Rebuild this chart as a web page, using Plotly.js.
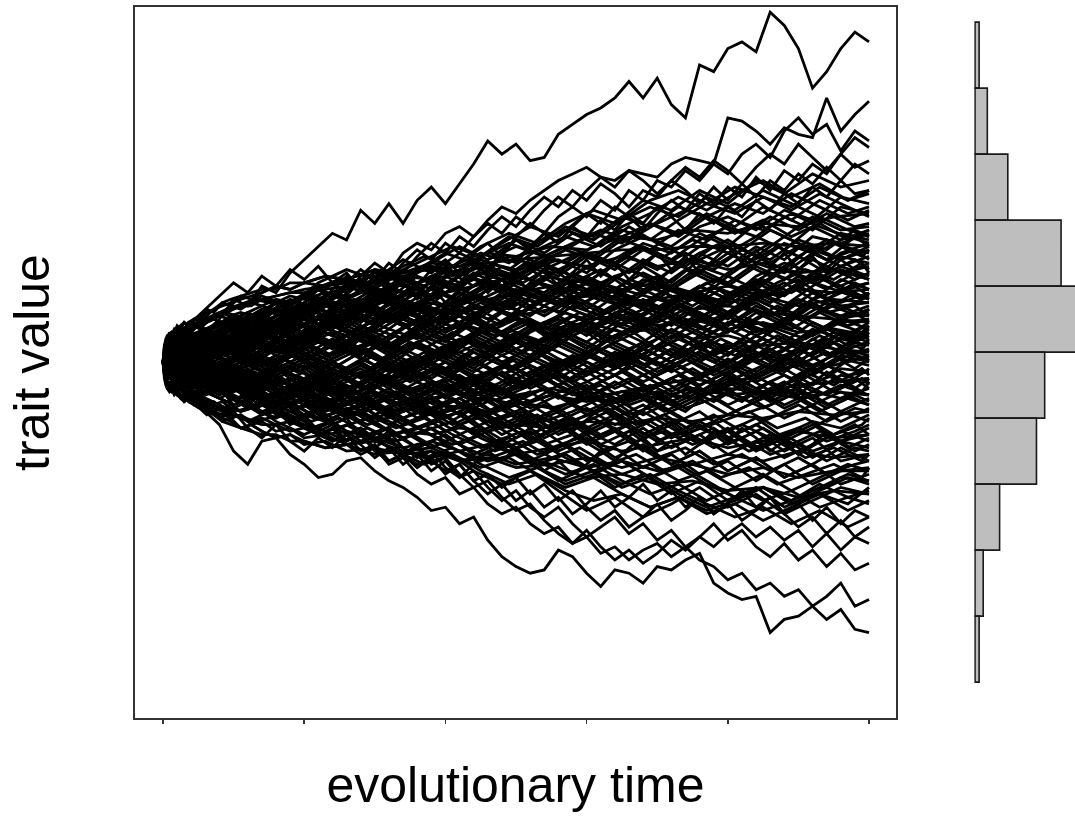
<!DOCTYPE html>
<html>
<head>
<meta charset="utf-8">
<script src="https://cdn.plot.ly/plotly-3.0.1.min.js"></script>
<style>html,body{margin:0;padding:0;background:#fff;}#chart{width:1075px;height:836px;}</style>
</head>
<body>
<div id="chart"></div>
<script>
// ---------- data ----------
const tickTimes = [0, 200, 400, 600, 800, 1000];

const timeCoarse = [0,5,12,24,40,80,120,160,200,240,280,320,360,400,440,480,520,560,600,640,680,720,760,800,840,880,920,960,1000];
const timeShifted = [0,4,10,24,60,100,140,180,220,260,300,340,380,420,460,500,540,580,620,660,700,740,780,820,860,900,940,980,1000];
const timeShiftedB = [0,3,8,18,50,90,130,170,210,250,290,330,370,410,450,490,530,570,610,650,690,730,770,810,850,890,930,970,1000];
const timeShiftedC = [0,2,7,15,70,110,150,190,230,270,310,350,390,430,470,510,550,590,630,670,710,750,790,830,870,910,950,990,1000];
const timeBlob = [0,1,2,4,6,9,12,16,20,25,30,36,44,52,62,72,84,96,110,125,140,160,180,200,230,260,300,340,380,420,460,500,550,600,650,700,750,800,850,900,950,1000];
const timeFine = [0,5,12,24,40,60,80,100,120,140,160,180,200,220,240,260,280,300,320,340,360,380,400,420,440,460,480,500,520,540,560,580,600,620,640,660,680,700,720,740,760,780,800,820,840,860,880,900,920,940,960,980,1000];

// paths that stand out at the upper edge of the fan (on timeFine)
const upperEdgePaths = [
  [0,2,4,2,5,9,13,19,17,23,21,27,31,35,39,37,46,42,48,42,49,53,48,54,60,67,63,66,61,62,69,72,75,77,80,85,80,86,78,74,90,88,95,97,94,106,102,95,83,88,95,100,97],
  [0,-2,-1,2,5,3,8,6,11,14,12,17,15,20,24,21,26,30,27,33,36,34,39,41,38,43,47,45,49,52,55,57,59,56,55,58,57,56,60,62,61,60,74,73,70,66,71,69,68,80,70,75,79],
  [0,1,3,0,-2,2,5,3,7,10,8,13,11,16,14,19,17,22,20,25,23,28,31,27,33,36,32,38,42,39,44,47,44,49,46,52,49,55,53,58,55,60,57,63,66,62,70,74,69,72,64,70,67],
  [0,-1,-3,-1,2,6,4,9,7,12,16,13,18,22,19,24,28,25,30,27,32,36,33,38,35,40,44,41,46,50,47,52,49,54,51,47,52,50,55,59,56,61,58,54,59,63,60,66,62,58,63,68,65],
  [0,2,1,4,2,-1,3,7,5,10,8,4,9,13,10,15,12,17,21,18,23,20,26,24,29,27,32,30,35,39,36,41,45,42,47,44,40,45,49,46,51,48,53,50,56,52,58,55,60,57,63,59,61],
  [0,-1,1,3,6,3,8,12,9,14,18,15,20,17,22,26,23,28,25,30,34,31,36,33,38,42,39,44,41,46,50,47,52,56,53,58,55,51,55,52,48,53,49,54,50,55,52,57,54,59,55,60,57],
  [0,1,-1,-3,0,4,1,6,10,7,12,9,14,19,16,21,25,22,27,24,20,25,29,26,31,28,33,37,34,39,36,41,38,43,40,45,42,47,44,40,45,42,47,44,49,46,51,48,53,50,55,51,52],
  [0,3,6,9,12,16,20,24,21,26,23,28,25,29,24,27,22,26,21,24,19,23,18,22,26,21,25,20,24,28,23,27,31,26,30,25,29,33,28,32,27,31,35,30,34,29,33,28,32,27,31,28,30]
];

// paths that stand out at the lower edge of the fan (on timeFine)
const lowerEdgePaths = [
  [0,-2,-5,-8,-11,-14,-17,-15,-20,-23,-19,-24,-27,-23,-26,-22,-25,-29,-26,-31,-28,-33,-30,-35,-31,-27,-30,-26,-29,-33,-30,-34,-31,-27,-30,-26,-23,-27,-24,-28,-25,-21,-24,-20,-23,-27,-24,-28,-25,-21,-24,-27,-25],
  [0,-2,-5,-8,-12,-15,-19,-27,-31,-24,-23,-28,-31,-35,-34,-30,-29,-33,-36,-38,-41,-45,-44,-49,-47,-54,-59,-62,-64,-63,-57,-59,-64,-68,-63,-64,-67,-62,-63,-60,-58,-67,-70,-72,-71,-82,-78,-77,-74,-78,-75,-81,-82],
  [0,1,-1,-4,-7,-10,-8,-13,-11,-16,-14,-19,-17,-22,-20,-25,-28,-26,-31,-29,-34,-37,-35,-40,-38,-43,-46,-44,-49,-52,-50,-55,-53,-58,-56,-60,-57,-55,-59,-56,-60,-62,-66,-64,-69,-67,-71,-69,-74,-71,-67,-74,-72],
  [0,-1,1,-2,-5,-3,-7,-5,-9,-12,-10,-14,-17,-15,-19,-22,-20,-24,-21,-26,-29,-27,-32,-35,-33,-38,-42,-39,-44,-47,-44,-49,-53,-50,-47,-52,-49,-54,-51,-56,-53,-49,-54,-51,-56,-59,-55,-60,-57,-62,-58,-63,-61],
  [0,2,0,-3,-1,-5,-9,-7,-12,-10,-15,-18,-16,-21,-24,-22,-27,-25,-30,-28,-26,-31,-29,-34,-38,-36,-41,-45,-43,-48,-52,-55,-51,-56,-60,-57,-61,-58,-54,-57,-53,-56,-52,-49,-53,-50,-54,-51,-56,-52,-57,-53,-55],
  [0,-2,-4,-2,-6,-9,-7,-11,-14,-12,-16,-13,-18,-21,-19,-24,-22,-27,-30,-28,-32,-29,-34,-31,-36,-40,-37,-42,-39,-44,-41,-46,-43,-39,-44,-41,-37,-42,-39,-44,-41,-46,-43,-48,-45,-41,-46,-43,-48,-44,-49,-45,-47],
  [0,1,3,1,-2,-5,-3,-8,-6,-11,-9,-13,-17,-14,-19,-17,-22,-26,-23,-28,-25,-30,-33,-31,-36,-34,-38,-35,-40,-37,-42,-39,-44,-48,-45,-50,-47,-43,-48,-45,-41,-46,-43,-39,-44,-41,-46,-50,-47,-52,-48,-53,-50]
];

// paths inside the dense part of the fan (on timeCoarse)
const interiorPaths = [
  [0,2,5,3,8,12,9,16,20,17,24,21,28,33,30,36,41,38,45,42,49,46,52,48,55,51,57,53,55],
  [0,-1,1,5,2,6,11,7,13,10,15,19,14,21,25,22,28,31,27,34,38,35,41,44,40,46,43,50,48],
  [0,1,-2,0,4,-1,5,9,6,12,8,14,18,15,21,17,23,28,24,30,35,31,37,41,38,44,40,47,45],
  [0,2,4,8,11,15,12,18,14,20,24,19,26,23,29,25,31,27,33,30,36,33,39,35,42,38,44,40,41],
  [0,-2,-4,-1,-5,-2,3,-1,5,9,4,10,7,13,17,12,19,15,22,26,21,28,33,29,35,31,38,36,39],
  [0,1,3,1,-2,4,1,7,11,8,13,10,16,12,18,22,17,23,20,26,29,24,31,35,30,36,33,39,37],
  [0,-1,2,6,9,6,12,16,13,18,15,21,17,23,19,25,28,23,29,25,31,27,33,37,32,38,34,31,35],
  [0,2,0,-3,1,-4,-1,4,0,6,2,8,13,9,15,11,17,21,16,22,27,23,29,26,32,28,35,31,34],
  [0,1,4,7,5,10,14,11,17,13,19,15,11,16,12,18,14,20,24,19,25,22,28,24,30,27,33,29,32],
  [0,-1,-3,0,3,7,4,9,5,11,8,13,9,15,20,16,22,18,24,21,17,23,19,26,22,28,25,32,30],
  [0,2,1,4,7,3,8,12,9,14,10,16,21,17,23,27,22,28,24,30,26,22,27,23,29,25,31,27,29],
  [0,-2,0,-2,-6,-3,-7,-2,-6,0,-4,2,6,2,8,4,10,14,9,15,11,17,13,19,24,20,26,23,27],
  [0,1,-1,3,6,2,7,3,9,5,11,7,13,18,14,20,16,22,18,14,19,15,21,17,23,28,24,29,26],
  [0,-1,1,-2,1,5,1,6,2,-2,3,-1,5,1,7,3,9,13,8,14,10,16,20,15,21,17,23,28,25],
  [0,2,5,3,7,11,15,11,17,21,16,22,26,21,27,23,29,25,21,26,22,18,23,19,25,21,27,22,24],
  [0,1,3,0,2,6,3,9,13,10,16,12,18,23,19,25,30,26,32,28,34,30,27,33,38,34,41,37,40],
  [0,-1,-3,-6,-3,-8,-4,-9,-5,0,-4,2,-2,4,9,5,11,7,13,17,12,18,23,19,26,30,27,33,36],
  [0,2,4,7,10,14,11,16,20,16,22,18,24,28,23,29,25,21,26,22,18,23,19,15,20,24,19,25,22],
  [0,-2,-1,-4,-1,3,-1,4,0,6,10,5,11,7,13,9,5,10,6,12,16,11,17,13,19,15,21,18,21],
  [0,1,-1,-4,-8,-4,-9,-5,-10,-6,-1,-5,1,-3,3,-1,5,9,4,10,6,12,8,14,18,13,19,16,20],
  [0,1,3,6,3,8,4,10,6,2,7,3,9,5,1,6,2,8,12,7,13,9,15,11,17,13,19,22,19],
  [0,-1,2,0,3,-1,4,9,5,11,7,13,9,15,20,16,22,18,14,20,16,22,18,14,19,15,21,17,18],
  [0,2,0,3,0,-4,0,-5,-1,-6,-2,-7,-3,2,-2,4,0,6,2,8,12,7,13,9,15,11,17,14,17],
  [0,-2,-4,-2,-5,-1,4,0,5,1,7,3,-1,4,0,6,2,-2,3,-1,5,9,4,10,6,12,17,13,16],
  [0,1,3,1,5,9,5,11,15,11,17,21,17,23,19,25,21,17,22,18,14,19,15,11,16,12,18,13,15],
  [0,-1,1,4,1,-3,1,-4,0,-5,-1,-6,-2,3,-1,5,1,7,3,-1,4,0,6,2,8,12,8,14,14],
  [0,2,5,8,12,8,13,18,14,20,17,12,16,10,14,9,13,8,12,7,11,6,10,14,9,13,8,12,13],
  [0,-2,-5,-3,-7,-11,-7,-13,-9,-15,-10,-6,-11,-5,-9,-3,-7,-1,3,-2,4,0,6,2,8,4,10,7,12],
  [0,1,0,2,5,1,-3,2,-2,3,8,4,10,6,12,8,4,9,5,1,6,2,8,4,10,6,12,8,11],
  [0,-1,-2,1,4,8,13,9,15,11,17,13,9,14,10,6,11,7,3,8,4,10,6,12,8,4,9,13,10],
  [0,2,1,-2,-5,-1,-6,-2,-8,-3,-7,-2,2,-3,1,-4,0,5,1,6,2,8,4,0,5,1,7,3,9],
  [0,1,4,2,6,3,8,4,0,5,1,-3,2,-2,4,0,-4,1,-3,2,6,2,8,4,10,6,2,7,8],
  [0,-1,-4,-7,-4,-9,-5,-10,-6,-12,-7,-11,-6,-10,-4,-8,-3,-7,-2,3,-1,4,0,5,1,6,2,9,7],
  [0,2,0,4,8,5,10,6,11,16,12,18,14,9,13,8,12,7,11,6,10,5,1,6,2,8,4,9,6],
  [0,-2,0,-3,1,-2,3,-1,4,0,-4,1,-3,-8,-4,-9,-5,0,-4,2,-2,4,0,-4,1,-3,3,7,5],
  [0,1,-1,1,-2,2,7,3,8,4,9,5,10,14,9,15,11,6,10,5,1,6,2,-2,3,-1,5,1,4],
  [0,-1,1,3,0,-4,-8,-4,-9,-5,-10,-6,-1,-5,0,-4,1,-3,2,-2,4,0,-4,1,-3,2,-2,4,2],
  [0,2,4,1,5,9,5,10,6,11,7,2,6,1,5,0,4,-1,3,-2,2,-3,1,5,0,4,-1,3,1],
  [0,-1,-3,-1,-4,0,-5,-1,-6,-2,3,-1,5,1,-3,2,-2,-7,-3,-8,-4,-9,-5,0,-4,1,-3,2,0],
  [0,1,2,5,2,-2,2,-3,1,-4,0,-5,-9,-5,-10,-6,-1,-5,0,-4,2,-2,3,-1,-5,0,-4,1,-1],
  [0,-2,-1,2,5,2,6,11,7,13,9,4,8,3,7,2,6,1,-3,1,-4,0,-5,-1,-6,-2,-7,-2,-3],
  [0,1,-1,-4,-1,-6,-2,-7,-3,-8,-13,-9,-14,-10,-6,-11,-7,-3,-8,-4,-9,-5,-10,-6,-11,-7,-2,-6,-5],
  [0,-1,1,4,7,3,7,2,6,1,5,0,-4,0,-5,-1,-6,-2,3,-1,-6,-2,-7,-3,-8,-4,-9,-4,-6],
  [0,2,0,-2,-6,-10,-6,-12,-8,-14,-10,-16,-12,-17,-13,-8,-12,-7,-11,-6,-10,-5,-9,-4,-8,-13,-9,-11,-8],
  [0,-1,-3,-6,-3,1,-3,2,-2,-7,-3,-8,-4,-9,-5,-10,-6,-11,-7,-12,-8,-13,-9,-5,-10,-6,-11,-7,-10],
  [0,1,3,0,-3,0,-4,-9,-5,-10,-6,-1,-5,0,-4,-9,-5,-10,-15,-11,-16,-12,-8,-13,-9,-14,-10,-15,-11],
  [0,-2,-4,-2,1,5,1,6,2,7,3,-1,-6,-2,-7,-3,-8,-4,-9,-14,-10,-15,-11,-16,-12,-8,-13,-9,-13],
  [0,1,-1,-3,-7,-4,-9,-13,-9,-15,-11,-17,-13,-19,-14,-20,-16,-22,-18,-14,-19,-15,-20,-16,-12,-17,-13,-18,-14],
  [0,-1,0,3,0,-3,1,-4,0,-5,-10,-6,-11,-7,-12,-17,-13,-18,-14,-19,-15,-20,-25,-21,-26,-22,-18,-20,-16],
  [0,2,1,-2,-5,-9,-14,-10,-16,-12,-18,-14,-20,-16,-22,-18,-24,-19,-25,-21,-27,-22,-18,-23,-19,-24,-20,-15,-18],
  [0,-1,-3,-1,2,-2,3,-1,4,0,-5,-1,-6,-11,-7,-13,-9,-15,-11,-17,-13,-19,-15,-21,-17,-23,-19,-24,-20],
  [0,1,-1,-4,-8,-5,-10,-6,-12,-17,-13,-19,-15,-21,-17,-13,-18,-14,-20,-16,-22,-18,-24,-20,-26,-22,-27,-24,-22],
  [0,-2,-5,-8,-12,-16,-12,-18,-22,-18,-24,-20,-26,-22,-28,-24,-30,-26,-21,-25,-20,-26,-22,-28,-24,-29,-25,-21,-24],
  [0,1,2,-1,-4,-1,-5,-1,-6,-2,-7,-12,-8,-13,-9,-14,-19,-15,-21,-17,-23,-19,-25,-21,-27,-23,-29,-24,-26],
  [0,-1,1,-2,1,4,0,5,1,-4,0,-5,-10,-6,-12,-8,-14,-10,-16,-12,-18,-23,-19,-25,-21,-27,-23,-30,-28],
  [0,2,-1,-5,-2,-7,-3,-8,-13,-9,-15,-11,-17,-13,-19,-25,-21,-27,-23,-29,-25,-31,-27,-33,-29,-35,-31,-26,-30],
  [0,-1,-4,-2,-6,-3,-8,-4,-10,-6,-12,-8,-14,-10,-16,-22,-18,-24,-30,-26,-32,-28,-34,-30,-36,-31,-37,-33,-32],
  [0,1,3,6,3,7,3,-2,2,-3,-8,-4,-10,-15,-11,-17,-22,-18,-24,-20,-26,-31,-27,-33,-29,-35,-31,-37,-34],
  [0,-2,-4,-7,-11,-8,-13,-17,-13,-19,-15,-21,-26,-22,-28,-24,-30,-36,-32,-38,-34,-40,-36,-42,-38,-44,-40,-35,-36],
  [0,-1,-3,-5,-9,-13,-18,-14,-20,-24,-20,-26,-31,-27,-33,-37,-33,-39,-45,-41,-47,-43,-38,-44,-40,-46,-42,-38,-40]
];

// more paths inside the fan (on timeShifted)
const interiorPathsB = [
  [0,2,5,9,12,16,20,17,24,28,25,31,27,33,29,26,30,24,28,22,26,19,23,17,21,25,19,23,20],
  [0,-2,-5,-8,-11,-15,-13,-18,-22,-19,-24,-21,-26,-22,-18,-23,-17,-21,-14,-18,-11,-15,-8,-12,-6,-10,-3,-8,-5],
  [0,1,4,2,6,10,14,19,16,22,27,24,30,35,31,37,33,39,35,41,36,32,38,34,40,36,31,38,35],
  [0,-1,2,5,9,13,10,15,19,23,20,26,22,18,23,19,15,20,16,12,17,13,9,14,10,6,11,7,10],
  [0,2,-1,-4,-7,-11,-15,-12,-17,-14,-19,-23,-20,-25,-21,-26,-22,-18,-23,-19,-24,-20,-16,-21,-17,-13,-18,-14,-15],
  [0,-2,-4,-1,3,0,5,2,7,4,10,7,13,10,16,20,17,23,19,25,22,28,24,30,26,32,27,31,28],
  [0,3,1,5,8,11,16,13,18,15,21,17,12,16,10,14,8,12,6,10,4,8,2,6,0,4,-1,5,3],
  [0,-1,-3,-6,-3,-7,-11,-8,-14,-10,-16,-12,-18,-15,-21,-17,-23,-19,-25,-21,-27,-24,-20,-26,-22,-28,-23,-19,-22],
  [0,1,3,7,4,9,6,12,9,15,12,18,15,21,18,24,21,27,23,19,24,20,16,21,17,13,18,14,16],
  [0,-2,0,-3,-6,-9,-6,-11,-8,-13,-10,-15,-11,-16,-12,-17,-13,-18,-14,-9,-13,-8,-12,-7,-11,-6,-10,-5,-8],
  [0,2,4,7,10,13,17,14,19,23,20,25,29,26,31,35,32,36,40,37,42,46,43,39,44,40,45,41,42],
  [0,-1,-4,-2,-5,-8,-12,-9,-14,-11,-7,-12,-8,-4,-9,-5,-1,-6,-2,2,-3,1,-4,0,4,-1,3,-2,1],
  [0,1,-1,2,5,8,12,9,14,11,16,13,9,14,10,15,11,17,14,19,16,21,18,23,20,26,22,27,25],
  [0,-2,-1,-4,-7,-5,-9,-13,-10,-15,-12,-17,-14,-19,-16,-21,-25,-22,-27,-24,-29,-26,-31,-28,-33,-29,-34,-31,-30],
  [0,2,5,3,0,4,-1,3,-2,2,6,3,8,5,10,7,12,9,14,18,15,11,16,12,9,14,10,15,12],
  [0,-1,1,-2,-5,-2,-6,-10,-7,-12,-9,-14,-10,-6,-11,-7,-3,-8,-4,0,-4,1,-3,2,-2,3,7,2,6],
  [0,1,3,6,9,6,10,14,18,15,20,17,22,19,24,21,26,30,27,32,28,33,29,34,30,35,31,34,31],
  [0,2,0,3,6,3,8,5,1,4,-1,3,-2,-6,-3,-8,-5,-10,-7,-12,-9,-14,-11,-16,-13,-9,-14,-10,-12],
  [0,-2,-4,-7,-4,-8,-5,-1,-6,-2,2,-2,3,7,4,9,6,11,8,13,10,15,12,17,14,19,16,21,19],
  [0,1,4,8,5,10,7,12,16,13,9,14,10,6,11,7,3,8,4,0,5,1,-3,2,-2,-6,-1,-5,-2],
  [0,-1,1,4,2,5,9,6,11,8,13,17,14,19,16,22,19,25,22,28,25,31,28,34,31,37,34,40,38],
  [0,1,-1,-3,-1,-4,-8,-5,-10,-7,-12,-9,-14,-11,-16,-13,-18,-15,-11,-16,-13,-18,-22,-19,-23,-20,-24,-21,-19],
  [0,3,6,4,8,12,9,13,10,15,11,16,12,17,13,18,14,19,15,20,16,21,17,22,18,23,19,24,22],
  [0,-1,-3,0,-3,-7,-4,-9,-6,-2,-6,-1,-5,0,-4,1,-3,2,-2,3,-1,4,0,5,1,6,2,7,9],
  [0,2,1,4,8,11,8,13,10,16,13,19,16,12,17,14,19,16,21,18,23,20,25,22,27,24,29,25,27],
  [0,-1,-4,-7,-10,-7,-12,-9,-5,-10,-7,-12,-16,-13,-18,-15,-20,-17,-22,-19,-24,-21,-26,-23,-28,-25,-30,-26,-27],
  [0,1,3,1,4,1,5,2,6,3,7,4,8,12,9,13,10,14,11,15,12,16,13,17,14,18,15,17,14],
  [0,-2,1,5,9,14,11,17,22,19,25,21,26,23,28,24,30,26,31,27,33,29,35,31,36,32,37,34,33],
  [0,2,4,1,-2,1,-3,-7,-4,-8,-5,-9,-6,-10,-7,-11,-8,-12,-9,-13,-10,-14,-11,-7,-12,-8,-13,-9,-10],
  [0,-1,-3,-6,-9,-13,-10,-15,-12,-17,-14,-19,-15,-11,-16,-12,-8,-13,-9,-5,-10,-6,-2,-7,-3,1,-4,2,0]
];

// paths in the outer parts of the dense band and the centre (on timeShiftedB)
const interiorPathsC = [
  [0,2,4,7,12,16,19,17,22,25,23,28,32,29,35,39,36,42,46,43,49,52,48,53,50,46,51,47,44],
  [0,-1,2,5,8,13,10,15,19,16,21,26,23,29,33,30,36,40,37,43,47,44,50,46,52,48,44,40,38],
  [0,1,3,1,6,10,14,11,16,20,17,22,19,25,29,26,31,35,32,38,42,39,45,41,47,43,49,45,47],
  [0,2,0,4,9,6,11,15,12,18,22,19,25,22,28,32,29,34,31,37,34,40,37,43,40,45,41,38,36],
  [0,-2,1,4,7,4,9,13,17,14,20,24,21,27,31,28,34,38,35,41,45,50,46,51,55,50,54,49,52],
  [0,1,4,8,11,15,12,17,21,25,22,27,31,35,32,38,35,41,38,44,41,47,44,39,43,38,42,37,40],
  [0,-1,-3,0,3,7,5,10,14,11,16,13,18,22,27,24,30,34,39,36,42,38,44,48,45,51,47,43,46],
  [0,2,5,3,8,12,9,14,18,22,26,23,29,26,32,36,33,30,35,40,37,43,48,45,50,47,53,49,51],
  [0,-2,-4,-7,-11,-15,-18,-16,-21,-24,-22,-27,-31,-28,-33,-37,-34,-39,-42,-40,-44,-41,-46,-43,-48,-44,-40,-43,-38],
  [0,1,-1,-4,-8,-12,-9,-14,-18,-15,-20,-24,-21,-26,-30,-27,-32,-36,-33,-38,-35,-40,-44,-41,-45,-42,-38,-34,-36],
  [0,-1,-3,-1,-6,-10,-14,-11,-16,-20,-17,-22,-19,-24,-28,-25,-30,-34,-31,-36,-40,-37,-42,-38,-34,-39,-35,-31,-33],
  [0,2,0,-3,-7,-4,-9,-13,-10,-15,-19,-16,-21,-25,-22,-27,-31,-28,-33,-37,-34,-39,-43,-47,-44,-49,-45,-50,-47],
  [0,-2,-5,-3,-8,-12,-9,-15,-19,-23,-20,-25,-29,-26,-31,-35,-32,-37,-34,-30,-35,-31,-36,-41,-38,-43,-39,-35,-37],
  [0,1,3,0,-4,-8,-5,-10,-14,-11,-16,-20,-17,-22,-26,-23,-28,-25,-30,-34,-31,-36,-33,-38,-42,-39,-44,-41,-43],
  [0,-1,-4,-6,-10,-7,-12,-16,-20,-17,-22,-19,-24,-28,-32,-29,-34,-38,-35,-40,-44,-41,-45,-42,-38,-42,-37,-41,-39],
  [0,2,-1,-3,-6,-3,-8,-5,-11,-15,-12,-17,-21,-18,-23,-27,-24,-29,-33,-30,-35,-32,-37,-41,-38,-43,-40,-45,-42],
  [0,2,-1,3,6,2,7,3,8,4,9,5,1,6,2,7,3,-1,4,0,5,1,6,2,7,3,8,4,6],
  [0,-1,1,-2,-5,-1,-6,-2,-7,-3,-8,-4,1,-3,2,-2,3,-1,4,0,-5,-1,-6,-2,3,-1,4,0,2],
  [0,1,4,2,5,10,6,11,7,12,16,12,17,13,18,14,10,15,11,16,12,17,13,9,14,10,15,11,13],
  [0,-2,-4,-1,-4,-8,-4,-9,-5,-10,-6,-11,-15,-11,-16,-12,-17,-13,-8,-12,-7,-11,-6,-10,-14,-10,-15,-11,-13],
  [0,1,-1,2,-1,3,8,4,9,5,10,15,11,16,20,16,21,17,22,18,23,19,24,20,25,21,26,22,24],
  [0,-1,-3,-6,-3,-7,-3,-8,-12,-8,-13,-9,-14,-19,-15,-20,-16,-21,-17,-22,-18,-23,-19,-24,-20,-25,-21,-26,-23],
  [0,2,3,6,9,5,10,6,11,7,3,8,4,9,5,10,6,11,15,11,16,12,8,13,9,14,10,5,8],
  [0,-2,0,-3,0,4,0,5,1,-3,2,-2,3,-1,-5,-1,-6,-2,-7,-3,-8,-4,-9,-5,-1,-5,0,-4,-3]
];

// further paths through the middle of the fan (on timeShiftedC)
const interiorPathsD = [
  [0,1,3,5,8,5,10,7,12,9,14,11,16,13,18,15,20,17,22,19,16,21,18,23,20,25,22,19,21],
  [0,-1,-3,-5,-8,-5,-10,-7,-12,-9,-14,-11,-16,-13,-18,-15,-20,-17,-14,-19,-16,-21,-18,-15,-20,-17,-22,-19,-17],
  [0,2,1,3,6,3,8,5,10,7,4,9,6,11,8,13,10,15,12,9,14,11,8,13,10,7,12,9,11],
  [0,-2,-1,-3,-6,-3,-8,-5,-10,-7,-4,-9,-6,-11,-8,-13,-10,-7,-12,-9,-6,-11,-8,-5,-10,-7,-4,-9,-6],
  [0,1,2,4,2,6,3,8,12,9,14,18,15,20,24,21,26,23,19,24,21,17,22,19,24,28,25,30,27],
  [0,-1,-2,-4,-2,-6,-3,-8,-12,-9,-14,-18,-15,-20,-24,-21,-26,-23,-19,-24,-21,-25,-22,-27,-24,-29,-26,-30,-28],
  [0,2,4,3,7,11,8,4,9,5,1,6,2,7,3,8,4,9,13,10,15,11,16,12,17,13,18,14,16],
  [0,-2,-4,-3,-7,-11,-8,-4,-9,-5,-1,-6,-2,-7,-3,-8,-4,-9,-13,-10,-15,-11,-7,-12,-8,-3,-7,-2,-4],
  [0,1,-1,2,5,9,13,17,14,19,16,21,25,22,27,24,29,33,30,35,32,37,34,30,35,31,36,32,34],
  [0,-1,1,-2,-5,-9,-13,-10,-15,-12,-17,-21,-18,-23,-27,-24,-29,-26,-31,-28,-33,-30,-35,-32,-37,-34,-31,-35,-32],
  [0,2,0,1,-2,2,-1,3,0,4,1,5,2,6,3,7,4,0,5,1,6,2,7,3,8,4,9,5,7],
  [0,-2,0,-1,2,-2,1,-3,0,-4,-1,-5,-2,-6,-3,-7,-4,0,-5,-1,-6,-2,-7,-3,-8,-4,-9,-5,-7]
];

// paths that fill the wide, rounded start of the fan (on timeBlob)
const blobPaths = [
  [0,3,5,7,8,8,9,9,11,10,12,11,13,13,15,16,18,19,20,21,22,22,24,24,26,25,28,26,29,27,30,28,31,29,32,29,31,28,30,27,28,25],
  [0,2,4,5,6,5,7,6,8,7,9,8,10,11,12,14,15,16,17,18,19,20,21,21,22,23,24,23,25,22,24,21,23,20,22,19,21,18,20,17,19,18],
  [0,2,3,5,7,6,8,7,9,8,10,9,11,12,13,13,15,16,17,17,19,20,21,22,23,24,26,27,28,29,30,31,32,33,34,34,35,35,36,35,36,35],
  [0,2,4,6,7,8,7,9,8,10,9,11,12,11,13,14,15,17,16,18,17,19,18,20,19,17,19,16,18,15,17,14,16,13,14,11,13,10,12,9,10,8],
  [0,3,5,6,7,8,9,8,10,11,10,12,13,12,14,16,17,18,19,20,21,23,22,24,26,25,28,27,30,29,33,32,35,34,38,37,40,39,42,41,44,45],
  [0,1,3,4,6,7,8,7,9,8,10,11,10,12,13,14,15,16,17,18,19,18,20,19,21,20,22,21,20,22,19,21,18,20,17,19,16,17,15,14,13,12],
  [0,2,4,6,7,9,8,10,9,11,12,11,13,14,16,15,18,17,20,19,21,23,22,24,23,25,24,26,25,27,24,26,23,25,22,24,21,23,20,22,21,22],
  [0,1,3,5,6,7,6,8,9,8,10,9,11,10,12,13,12,14,15,14,16,15,17,16,14,16,13,15,12,14,11,13,10,12,9,10,7,8,5,6,4,3],
  [0,-3,-5,-7,-8,-8,-9,-9,-10,-10,-12,-11,-13,-14,-15,-16,-18,-19,-20,-21,-22,-22,-24,-24,-26,-25,-28,-27,-29,-27,-30,-28,-31,-29,-32,-29,-31,-28,-30,-27,-29,-28],
  [0,-2,-4,-5,-6,-6,-7,-7,-8,-8,-9,-9,-11,-11,-12,-14,-15,-16,-17,-18,-19,-19,-21,-20,-22,-21,-23,-21,-22,-20,-21,-19,-20,-18,-19,-17,-18,-16,-17,-15,-16,-15],
  [0,-2,-3,-5,-7,-6,-8,-7,-9,-8,-10,-9,-12,-11,-13,-15,-14,-17,-16,-19,-18,-21,-20,-23,-22,-25,-24,-27,-26,-30,-29,-32,-31,-35,-34,-37,-36,-39,-38,-41,-39,-40],
  [0,-2,-4,-6,-7,-8,-7,-9,-8,-10,-11,-10,-12,-13,-14,-15,-16,-17,-16,-18,-17,-19,-18,-16,-18,-15,-17,-14,-16,-13,-15,-12,-14,-11,-12,-9,-11,-8,-9,-7,-6,-5],
  [0,-3,-4,-6,-7,-8,-9,-8,-10,-11,-10,-12,-13,-12,-14,-16,-17,-18,-20,-19,-21,-23,-22,-24,-26,-25,-23,-26,-24,-27,-25,-28,-26,-24,-27,-25,-23,-26,-24,-21,-23,-22],
  [0,-1,-3,-5,-6,-7,-8,-7,-9,-8,-10,-9,-11,-12,-13,-12,-14,-13,-15,-14,-12,-15,-13,-11,-14,-12,-10,-13,-11,-9,-12,-10,-8,-11,-9,-7,-5,-7,-3,-1,-1,2],
  [0,-2,-4,-6,-8,-9,-8,-10,-9,-11,-12,-11,-13,-14,-16,-15,-18,-17,-20,-19,-21,-23,-22,-25,-24,-27,-26,-28,-27,-30,-28,-31,-29,-32,-30,-33,-31,-34,-32,-35,-33,-33],
  [0,-1,-3,-5,-6,-7,-6,-8,-9,-8,-10,-9,-11,-10,-12,-13,-12,-14,-15,-14,-16,-15,-17,-16,-14,-16,-13,-15,-12,-14,-11,-13,-10,-12,-9,-11,-8,-10,-9,-11,-9,-10]
];

// histogram of final trait values (bins of 20 trait units)
const histBinCentres = [93, 73, 53, 33, 13, -7, -27, -47, -67, -87];
const histCounts     = [1, 3, 8, 21, 26, 17, 15, 6, 2, 1];
const histBinWidth = 20;

// ---------- traces ----------
const lineStyle = {color: '#000', width: 2.8};
const traces = [];
function addPaths(paths, times) {
  paths.forEach(p => traces.push({
    type: 'scatter', mode: 'lines', x: times, y: p,
    line: lineStyle, hoverinfo: 'skip', showlegend: false, xaxis: 'x', yaxis: 'y'
  }));
}
addPaths(interiorPaths, timeCoarse);
addPaths(interiorPathsB, timeShifted);
addPaths(interiorPathsC, timeShiftedB);
addPaths(interiorPathsD, timeShiftedC);
addPaths(blobPaths, timeBlob);
addPaths(upperEdgePaths, timeFine);
addPaths(lowerEdgePaths, timeFine);

traces.push({
  type: 'bar', orientation: 'h', x: histCounts, y: histBinCentres,
  width: histBinWidth, xaxis: 'x2', yaxis: 'y2',
  marker: {color: '#bebebe', line: {color: '#1a1a1a', width: 1.6}},
  hoverinfo: 'skip', showlegend: false
});

const titleFont = {family: 'Liberation Sans, Arial, Helvetica, sans-serif', size: 50, color: '#000'};
const yRange = [-107.88, 107.58];

const layout = {
  width: 1075, height: 836,
  margin: {l: 135, r: 0, t: 7, b: 118, pad: 0},
  paper_bgcolor: '#fff', plot_bgcolor: '#fff',
  showlegend: false,
  bargap: 0,
  xaxis: {
    domain: [0, 0.80957], range: [-39.66, 1038.2],
    tickvals: tickTimes, ticks: 'outside', ticklen: 4, tickwidth: 1.5, tickcolor: '#333',
    showticklabels: false, showgrid: false, zeroline: false,
    showline: true, mirror: true, linecolor: '#333', linewidth: 2,
    title: {text: 'evolutionary time', font: titleFont, standoff: 44}
  },
  yaxis: {
    range: yRange, showticklabels: false, ticks: '', showgrid: false, zeroline: false,
    showline: true, mirror: true, linecolor: '#333', linewidth: 2,
    title: {text: 'trait value', font: titleFont, standoff: 68}
  },
  xaxis2: {
    domain: [0.89277, 1], range: [-0.2, 24.4], anchor: 'y2',
    visible: false, showgrid: false, zeroline: false
  },
  yaxis2: {
    range: yRange, anchor: 'x2', visible: false, showgrid: false, zeroline: false
  }
};

Plotly.newPlot('chart', traces, layout, {displayModeBar: false, staticPlot: true});
</script>
</body>
</html>
